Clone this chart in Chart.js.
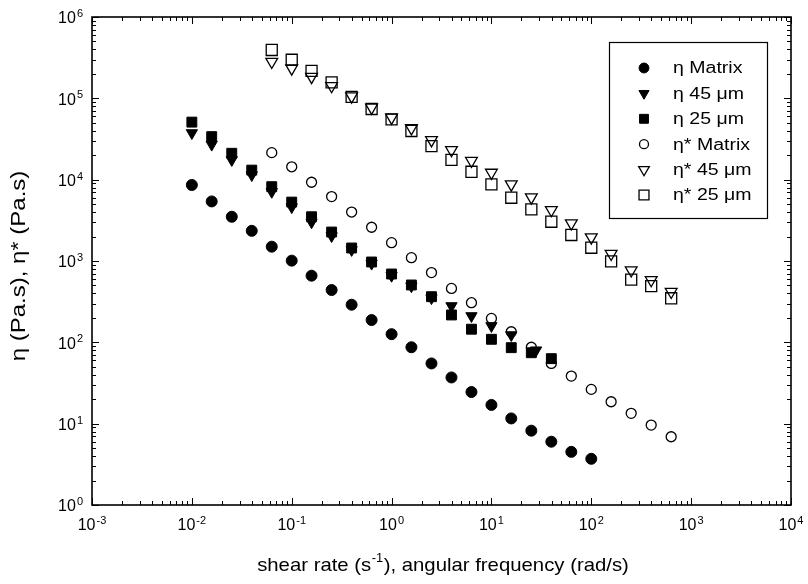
<!DOCTYPE html>
<html>
<head>
<meta charset="utf-8">
<script src="https://cdn.jsdelivr.net/npm/chart.js@4"></script>
<style>
  html, body { margin: 0; padding: 0; background: #fff; }
  #wrap { width: 808px; height: 584px; position: relative; }
</style>
</head>
<body>
<div id="wrap"><canvas id="viscChart"></canvas></div>
<script>
// steady shear (eta) x values, s^-1
const etaMatrixX = [0.01, 0.0158, 0.0251, 0.0398, 0.0631, 0.1, 0.158, 0.251, 0.398, 0.631, 1, 1.58, 2.51, 3.98, 6.31, 10, 15.8, 25.1, 39.8, 63.1, 100];
const eta45X = [0.01, 0.0158, 0.0251, 0.0398, 0.0631, 0.1, 0.158, 0.251, 0.398, 0.631, 1, 1.58, 2.51, 3.98, 6.31, 10, 15.8, 28];
const eta25X = [0.01, 0.0158, 0.0251, 0.0398, 0.0631, 0.1, 0.158, 0.251, 0.398, 0.631, 1, 1.58, 2.51, 3.98, 6.31, 10, 15.8, 25.1, 39.8];
// oscillatory (eta*) x values, rad/s
const freqX = [0.0631, 0.1, 0.158, 0.251, 0.398, 0.631, 1, 1.58, 2.51, 3.98, 6.31, 10, 15.8, 25.1, 39.8, 63.1, 100, 158, 251, 398, 631];

const etaMatrix = [8600, 5400, 3500, 2350, 1500, 1010, 660, 440, 290, 188, 126, 87, 55, 37, 24.5, 17, 11.6, 8.2, 6.0, 4.5, 3.7];
const eta45 = [37500, 27000, 17500, 11400, 7100, 4600, 3000, 2030, 1370, 930, 660, 490, 350, 280, 211, 159, 123, 80];
const eta25 = [51000, 33800, 21100, 13100, 8200, 5300, 3500, 2270, 1445, 972, 692, 507, 364, 217, 145, 109, 86, 74.5, 63];
const etaStarMatrix = [21500, 14400, 9300, 6200, 4000, 2600, 1680, 1100, 720, 460, 307, 197, 135, 87, 55, 38.5, 26.4, 18.6, 13.4, 9.6, 6.9];
const etaStar45 = [282000, 234000, 184000, 142000, 106000, 77000, 58000, 43000, 30700, 23200, 17100, 12200, 8770, 6070, 4240, 2910, 1955, 1230, 770, 584, 419];
const etaStar25 = [393000, 298000, 218000, 157000, 104000, 74000, 55200, 39700, 25900, 17500, 12500, 8770, 6000, 4320, 3040, 2090, 1456, 990, 590, 492, 348];

const seriesLabels = ['η Matrix', 'η 45 μm', 'η 25 μm', 'η* Matrix', 'η* 45 μm', 'η* 25 μm'];
const xExponents = [-3, -2, -1, 0, 1, 2, 3, 4];
const yExponents = [0, 1, 2, 3, 4, 5, 6];

const FONT = "'Liberation Sans', Arial, Helvetica, sans-serif";

function pts(xs, ys) {
    return ys.map((y, i) => ({ x: xs[i], y: y }));
}

// marker look per series (also used by the legend)
const markers = [
    { style: 'circle', r: 5.5, fill: true, rot: 0 },
    { style: 'triangle', r: 6.5, fill: true, rot: 180 },
    { style: 'rect', r: 7, fill: true, rot: 0 },
    { style: 'circle', r: 5, fill: false, rot: 0 },
    { style: 'triangle', r: 6.8, fill: false, rot: 180 },
    { style: 'rect', r: 7.8, fill: false, rot: 0 }
];

const seriesData = [
    pts(etaMatrixX, etaMatrix),
    pts(eta45X, eta45),
    pts(eta25X, eta25),
    pts(freqX, etaStarMatrix),
    pts(freqX, etaStar45),
    pts(freqX, etaStar25)
];

const datasets = seriesData.map((d, i) => ({
    label: seriesLabels[i],
    data: d,
    showLine: false,
    pointStyle: markers[i].style,
    pointRadius: markers[i].r,
    pointRotation: markers[i].rot,
    pointBackgroundColor: markers[i].fill ? '#000' : 'rgba(0,0,0,0)',
    pointBorderColor: '#000',
    pointBorderWidth: markers[i].fill ? 1 : 1.3
}));

// draw a marker by hand for the legend
function drawMarker(ctx, m, x, y, scale) {
    const r = m.r * scale;
    ctx.save();
    ctx.beginPath();
    if (m.style === 'circle') {
        ctx.arc(x, y, r, 0, Math.PI * 2);
    } else if (m.style === 'triangle') {
        // pointing down
        ctx.moveTo(x, y + r);
        ctx.lineTo(x - r * Math.sin(Math.PI / 3), y - r / 2);
        ctx.lineTo(x + r * Math.sin(Math.PI / 3), y - r / 2);
        ctx.closePath();
    } else {
        const s = r * Math.SQRT1_2;
        ctx.rect(x - s, y - s, 2 * s, 2 * s);
    }
    ctx.strokeStyle = '#000';
    ctx.lineWidth = m.fill ? 1 : 1.3;
    if (m.fill) { ctx.fillStyle = '#000'; ctx.fill(); }
    ctx.stroke();
    ctx.restore();
}

// text stretched along its direction (the scan's lettering is wide)
function wideText(ctx, txt, x, y, stretch) {
    ctx.save();
    ctx.translate(x, y);
    ctx.scale(stretch, 1);
    ctx.fillText(txt, 0, 0);
    ctx.restore();
}

// "10" with a raised exponent
function drawPow(ctx, exp, x, y, align) {
    const base = '10';
    const sup = String(exp);
    ctx.font = '16px ' + FONT;
    const wb = ctx.measureText(base).width;
    ctx.font = '11px ' + FONT;
    const ws = ctx.measureText(sup).width;
    const total = wb + ws + 1;
    let left = align === 'right' ? x - total : x - total / 2;
    ctx.textBaseline = 'middle';
    ctx.textAlign = 'left';
    ctx.font = '16px ' + FONT;
    ctx.fillText(base, left, y);
    ctx.font = '11px ' + FONT;
    ctx.fillText(sup, left + wb + 1, y - 5);
}

const framePlugin = {
    id: 'frame',
    beforeDatasetsDraw(chart) {
        const ctx = chart.ctx;
        const a = chart.chartArea;
        const xs = chart.scales.x, ys = chart.scales.y;
        ctx.save();
        ctx.strokeStyle = '#000';
        ctx.lineWidth = 1;
        // ticks on all four sides, pointing in
        for (let e = -3; e < 4; e++) {
            for (let k = 1; k <= 10; k++) {
                const px = Math.round(xs.getPixelForValue(k * Math.pow(10, e))) + 0.5;
                const len = (k === 1 || k === 10) ? 7 : 4;
                ctx.beginPath();
                ctx.moveTo(px, a.bottom); ctx.lineTo(px, a.bottom - len);
                ctx.moveTo(px, a.top); ctx.lineTo(px, a.top + len);
                ctx.stroke();
            }
        }
        for (let e = 0; e < 6; e++) {
            for (let k = 1; k <= 10; k++) {
                const py = Math.round(ys.getPixelForValue(k * Math.pow(10, e))) + 0.5;
                const len = (k === 1 || k === 10) ? 7 : 4;
                ctx.beginPath();
                ctx.moveTo(a.left, py); ctx.lineTo(a.left + len, py);
                ctx.moveTo(a.right, py); ctx.lineTo(a.right - len, py);
                ctx.stroke();
            }
        }
        ctx.lineWidth = 1.6;
        ctx.strokeRect(a.left, a.top, a.right - a.left, a.bottom - a.top);
        ctx.restore();
    },
    afterDraw(chart) {
        const ctx = chart.ctx;
        const a = chart.chartArea;
        const xs = chart.scales.x, ys = chart.scales.y;
        ctx.save();
        ctx.fillStyle = '#000';

        // tick labels
        xExponents.forEach(e => drawPow(ctx, e, xs.getPixelForValue(Math.pow(10, e)), a.bottom + 21, 'center'));
        yExponents.forEach(e => drawPow(ctx, e, a.left - 9, ys.getPixelForValue(Math.pow(10, e)) + 2, 'right'));

        // x title with superscript
        const st = 1.07;
        const p1 = 'shear rate (s', p2 = '-1', p3 = '), angular frequency (rad/s)';
        ctx.font = '19px ' + FONT;
        const w1 = ctx.measureText(p1).width * st, w3 = ctx.measureText(p3).width * st;
        ctx.font = '12px ' + FONT;
        const w2 = ctx.measureText(p2).width * st + 1;
        let tx = 443 - (w1 + w2 + w3) / 2;
        const ty = 566;
        ctx.textAlign = 'left';
        ctx.textBaseline = 'middle';
        ctx.font = '19px ' + FONT;
        wideText(ctx, p1, tx, ty, st);
        ctx.font = '12px ' + FONT;
        wideText(ctx, p2, tx + w1 + 0.5, ty - 7, st);
        ctx.font = '19px ' + FONT;
        wideText(ctx, p3, tx + w1 + w2, ty, st);

        // y title
        ctx.save();
        ctx.translate(19, 266);
        ctx.rotate(-Math.PI / 2);
        ctx.textAlign = 'center';
        ctx.font = '20px ' + FONT;
        wideText(ctx, 'η (Pa.s), η* (Pa.s)', 0, 0, 1.2);
        ctx.restore();

        // legend box
        ctx.lineWidth = 1.2;
        ctx.strokeStyle = '#000';
        ctx.strokeRect(609.5, 42.5, 158, 176);
        ctx.font = '16px ' + FONT;
        ctx.textAlign = 'left';
        ctx.textBaseline = 'middle';
        seriesLabels.forEach((lab, i) => {
            const y = 68 + i * 25.4;
            drawMarker(ctx, markers[i], 644, y, 0.9);
            wideText(ctx, lab, 673, y + 1, 1.22);
        });
        ctx.restore();
    }
};

new Chart(document.getElementById('viscChart'), {
    type: 'scatter',
    data: { datasets: datasets },
    options: {
        responsive: true,
        maintainAspectRatio: false,
        animation: false,
        events: [],
        layout: { padding: { left: 92, top: 17, right: 17, bottom: 79 } },
        plugins: {
            legend: { display: false },
            tooltip: { enabled: false }
        },
        scales: {
            x: {
                type: 'logarithmic',
                display: false,
                min: 1e-3,
                max: 1e4
            },
            y: {
                type: 'logarithmic',
                display: false,
                min: 1,
                max: 1e6
            }
        }
    },
    plugins: [framePlugin]
});
</script>
</body>
</html>
